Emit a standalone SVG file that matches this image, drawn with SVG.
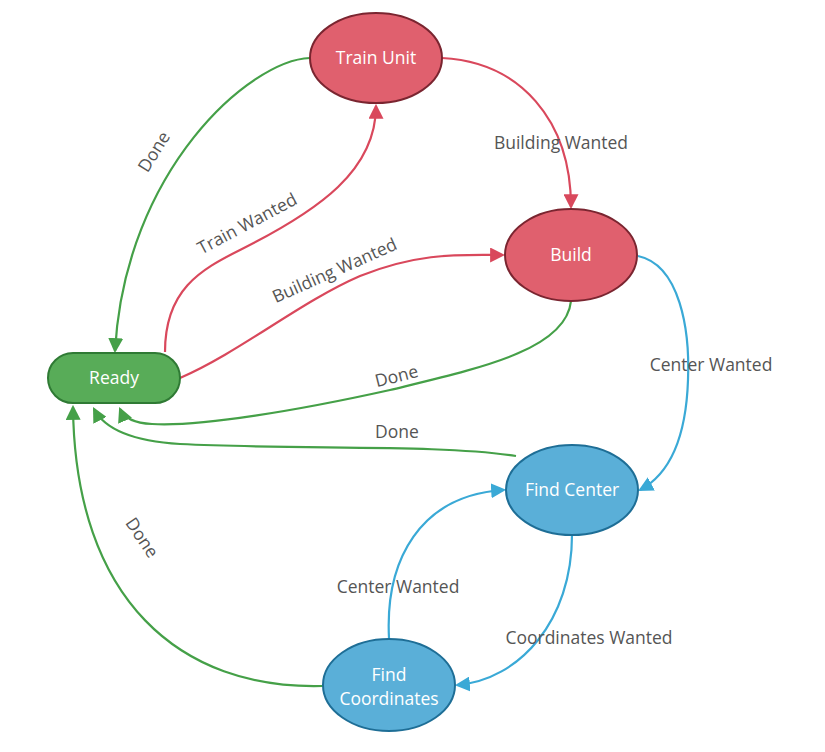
<svg xmlns="http://www.w3.org/2000/svg" width="825" height="752" viewBox="0 0 825 752">
<style>
.edge{fill:none;stroke-width:2.2}
.g{stroke:#45a048}
.r{stroke:#d9485c}
.b{stroke:#3aa9d6}
.lbl{font-family:"Open Sans","Liberation Sans",sans-serif;font-size:17.5px;fill:#555;text-anchor:middle}
.ntxt{font-family:"Open Sans","Liberation Sans",sans-serif;font-size:17.5px;fill:#fff;text-anchor:middle}
.red{fill:#e0606e;stroke:#7a2530;stroke-width:2}
.grn{fill:#58ac58;stroke:#2f7a34;stroke-width:2}
.blu{fill:#5aafd8;stroke:#1e6e96;stroke-width:2}
</style>
<defs>
<marker id="ag" viewBox="0 0 14 14" refX="12" refY="7" markerWidth="15" markerHeight="15" markerUnits="userSpaceOnUse" orient="auto"><path d="M0,0 L14,7 L0,14 z" fill="#45a048"/></marker>
<marker id="ar" viewBox="0 0 14 14" refX="12" refY="7" markerWidth="15" markerHeight="15" markerUnits="userSpaceOnUse" orient="auto"><path d="M0,0 L14,7 L0,14 z" fill="#d9485c"/></marker>
<marker id="ab" viewBox="0 0 14 14" refX="12" refY="7" markerWidth="15" markerHeight="15" markerUnits="userSpaceOnUse" orient="auto"><path d="M0,0 L14,7 L0,14 z" fill="#3aa9d6"/></marker>
</defs>
<g id="connectors">
<path class="edge g" d="M310,58 C250,60 125,170 115,351" marker-end="url(#ag)"/>
<path class="edge r" d="M165,352 C165,290 200,270 240,250 C320,210 376,170 376,106" marker-end="url(#ar)"/>
<path class="edge r" d="M180,378 C240,352 300,302 360,276 C420,252 460,255 503,255" marker-end="url(#ar)"/>
<path class="edge r" d="M442,58 C520,62 571,120 571,207" marker-end="url(#ar)"/>
<path class="edge g" d="M571,301 C566,350 480,368 390,390 C300,410 200,427 152,424 C132,423 123,416 120,409" marker-end="url(#ag)"/>
<path class="edge g" d="M516,456 C440,444 300,450 180,444 C130,441 104,428 94,409" marker-end="url(#ag)"/>
<path class="edge g" d="M323,686 C180,690 75,600 73,407" marker-end="url(#ag)"/>
<path class="edge b" d="M638,256 C680,265 690,330 688,380 C686,440 668,475 640,490" marker-end="url(#ab)"/>
<path class="edge b" d="M572,535 C572,620 520,680 457,685" marker-end="url(#ab)"/>
<path class="edge b" d="M389,638 C385,560 420,495 504,490" marker-end="url(#ab)"/>
<text class="lbl" transform="translate(159,155) rotate(-58)">Done</text>
<text class="lbl" transform="translate(250,229) rotate(-28)">Train Wanted</text>
<text class="lbl" transform="translate(337,276) rotate(-24)">Building Wanted</text>
<text class="lbl" x="561" y="149">Building Wanted</text>
<text class="lbl" transform="translate(398,382) rotate(-14)">Done</text>
<text class="lbl" x="397" y="438">Done</text>
<text class="lbl" transform="translate(137,541) rotate(56)">Done</text>
<text class="lbl" x="711" y="371">Center Wanted</text>
<text class="lbl" x="589" y="644">Coordinates Wanted</text>
<text class="lbl" x="398" y="593">Center Wanted</text>
</g>
<g id="train-unit"><ellipse class="red" cx="376" cy="58" rx="66" ry="45"/><text class="ntxt" x="376" y="64">Train Unit</text></g>
<g id="build"><ellipse class="red" cx="571" cy="255" rx="66" ry="46"/><text class="ntxt" x="571" y="261">Build</text></g>
<g id="ready"><rect class="grn" x="48" y="353" width="132" height="50" rx="25"/><text class="ntxt" x="114" y="384">Ready</text></g>
<g id="find-center"><ellipse class="blu" cx="572" cy="490" rx="66" ry="45"/><text class="ntxt" x="572" y="496">Find Center</text></g>
<g id="find-coordinates"><ellipse class="blu" cx="389" cy="685" rx="66" ry="46"/><text class="ntxt" x="389" y="681">Find</text><text class="ntxt" x="389" y="705">Coordinates</text></g>
</svg>
